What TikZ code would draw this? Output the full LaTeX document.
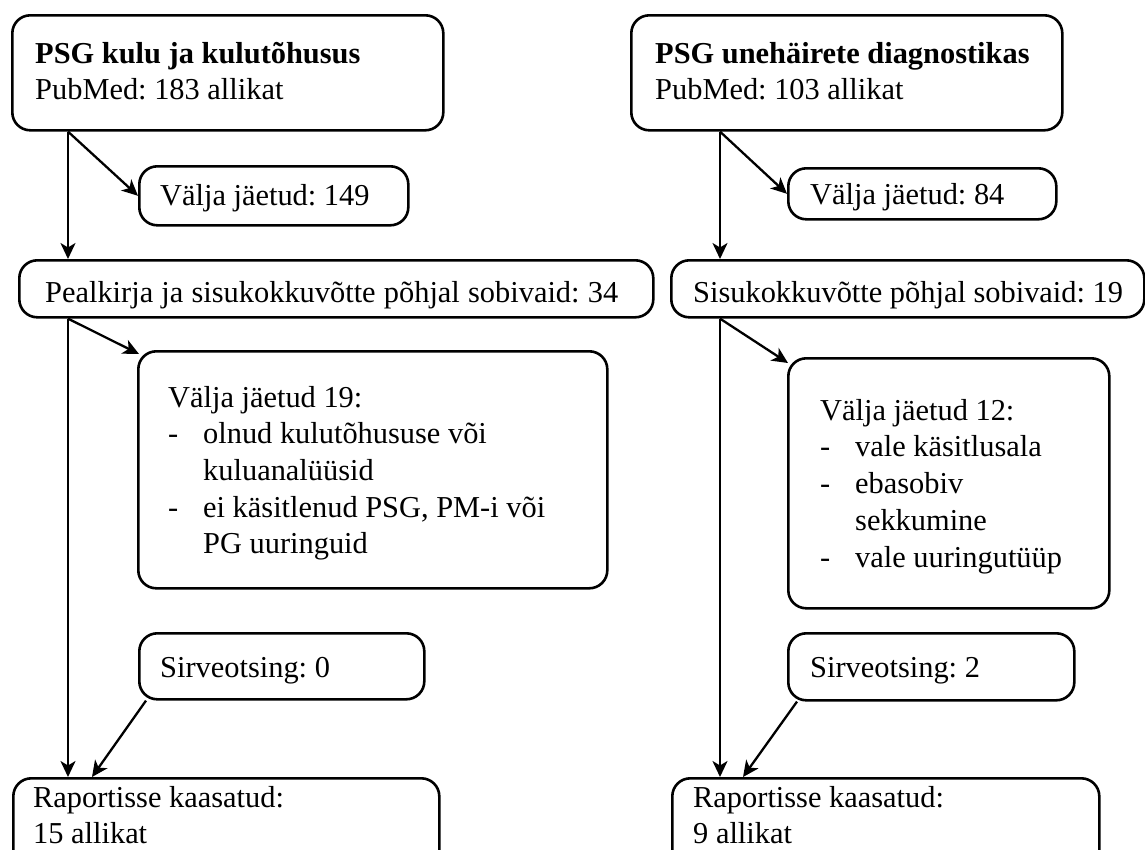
\documentclass[tikz,border=0pt]{standalone}
\usepackage{fontspec}
\setmainfont{Liberation Serif}
\usetikzlibrary{arrows.meta}
\frenchspacing
\begin{document}
\begin{tikzpicture}[x=1pt,y=-1pt,
  box/.style={draw, line width=2.6pt, rounded corners=18pt, inner sep=0pt, anchor=north west},
  txt/.style={anchor=north west, inner sep=0pt, align=left, font=\frenchspacing\fontsize{30.4}{36.7}\selectfont},
  arr/.style={line width=2.3pt, -{Stealth[length=16pt,width=15pt,inset=4.5pt]}}]
\fill[white] (0,0) rectangle (1145,849);
\useasboundingbox (0,0) rectangle (1145,849);
\clip (0,0) rectangle (1145,849);
% ---------- left column ----------
\node[box, minimum width=431pt, minimum height=115pt] (LA) at (11,14) {};
\node[box, minimum width=269pt, minimum height=59pt] (LB) at (138,165) {};
\node[box, minimum width=634pt, minimum height=57pt] (LC) at (18,259) {};
\node[box, minimum width=469pt, minimum height=237pt] (LD) at (137,350) {};
\node[box, minimum width=285pt, minimum height=66pt] (LE) at (138,632) {};
\node[box, minimum width=426pt, minimum height=110pt] (LF) at (12,777) {};
\node[txt] (tLA) at (35,37.3) {\strut\textbf{PSG kulu ja kulutõhusus}\\PubMed: 183 allikat};
\node[txt] (tLB) at (160,179.3) {\strut Välja jäetud: 149};
\node[txt] (tLC) at (45,276.3) {\strut\makebox[573pt][s]{Pealkirja ja sisukokkuvõtte põhjal sobivaid: 34}};
\node[txt] (tLD) at (168,381.3) {\strut Välja jäetud 19:\\
  \makebox[35pt][l]{-}olnud kulutõhususe või\\
  \hspace*{35pt}kuluanalüüsid\\
  \makebox[35pt][l]{-}ei käsitlenud PSG, PM-i või\\
  \hspace*{35pt}PG uuringuid};
\node[txt] (tLE) at (160,651.3) {\strut Sirveotsing: 0};
\node[txt] (tLF) at (33,781.3) {\strut Raportisse kaasatud:\\15 allikat};
% ---------- right column ----------
\node[box, minimum width=431pt, minimum height=115pt] (RA) at (630,14) {};
\node[box, minimum width=268pt, minimum height=51pt] (RB) at (787,167) {};
\node[box, minimum width=473pt, minimum height=57pt] (RC) at (670,259) {};
\node[box, minimum width=321pt, minimum height=250pt] (RD) at (787,357) {};
\node[box, minimum width=286pt, minimum height=67pt] (RE) at (787,632) {};
\node[box, minimum width=427pt, minimum height=110pt] (RF) at (671,777) {};
\node[txt] (tRA) at (655,37.3) {\strut\textbf{PSG unehäirete diagnostikas}\\PubMed: 103 allikat};
\node[txt] (tRB) at (810,178.3) {\strut Välja jäetud: 84};
\node[txt] (tRC) at (693,276.3) {\strut Sisukokkuvõtte põhjal sobivaid: 19};
\node[txt] (tRD) at (820,394.3) {\strut Välja jäetud 12:\\
  \makebox[35pt][l]{-}vale käsitlusala\\
  \makebox[35pt][l]{-}ebasobiv\\
  \hspace*{35pt}sekkumine\\
  \makebox[35pt][l]{-}vale uuringutüüp};
\node[txt] (tRE) at (810,651.3) {\strut Sirveotsing: 2};
\node[txt] (tRF) at (693,781.3) {\strut Raportisse kaasatud:\\9 allikat};
% ---------- connectors ----------
\coordinate (lx) at (68,0);
\coordinate (rx) at (720,0);
\draw[arr] (LA.south -| lx) -- (LC.north -| lx);
\draw[arr] (LC.south -| lx) -- (LF.north -| lx);
\draw[arr] (LA.south -| lx) -- (LB.west);
\draw[arr] (LC.south -| lx) -- ([shift={(2,4)}]LD.north west);
\draw[arr] ([xshift=8pt]LE.south west) -- ([xshift=80pt]LF.north west);
\draw[arr] (RA.south -| rx) -- (RC.north -| rx);
\draw[arr] (RC.south -| rx) -- (RF.north -| rx);
\draw[arr] (RA.south -| rx) -- (RB.west);
\draw[arr] (RC.south -| rx) -- ([shift={(1,6)}]RD.north west);
\draw[arr] ([xshift=10pt]RE.south west) -- ([xshift=72pt]RF.north west);
\end{tikzpicture}
\end{document}
